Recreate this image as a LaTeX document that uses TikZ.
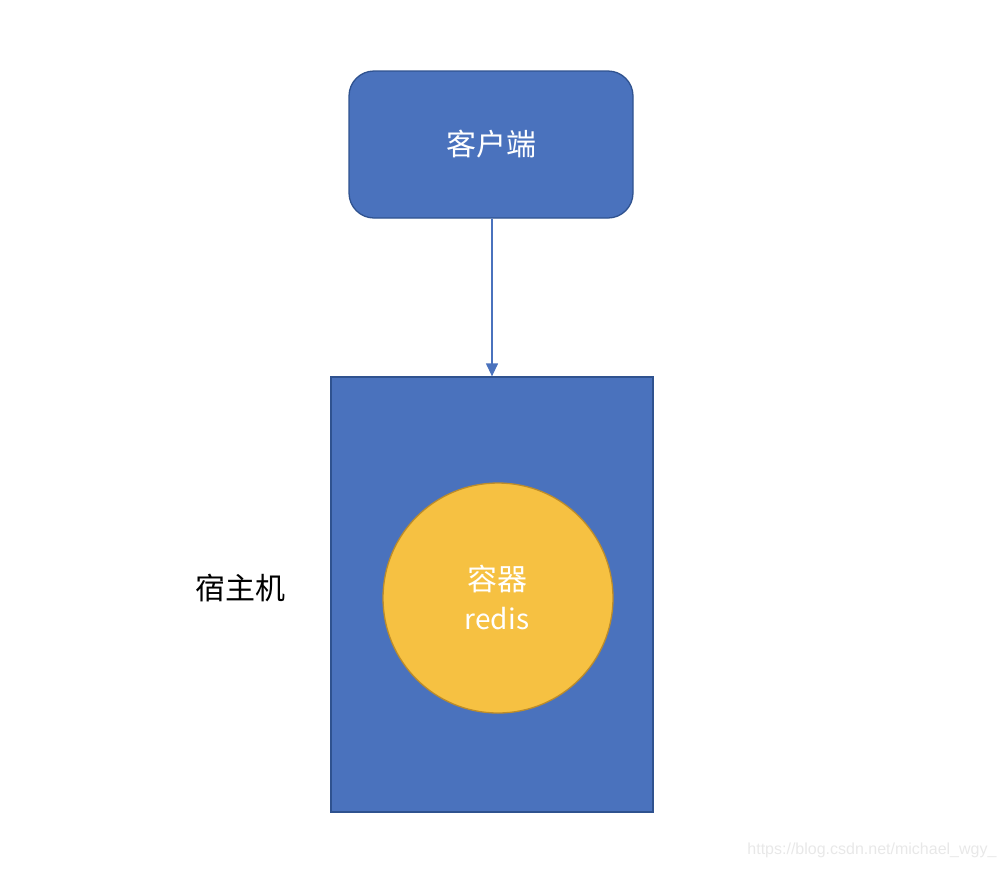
\documentclass[tikz,border=0pt]{standalone}
\usepackage{fontspec}
\setmainfont{Noto Sans CJK SC}
\newfontfamily\wmfont{Liberation Sans}
\usetikzlibrary{arrows.meta}
\definecolor{boxblue}{HTML}{4A72BD}
\definecolor{boxedge}{HTML}{2F528F}
\definecolor{circfill}{HTML}{F6C142}
\definecolor{circedge}{HTML}{BC8C2A}
\definecolor{wmgray}{HTML}{E8E8E8}
\tikzset{
  bluebox/.style={draw=boxedge, fill=boxblue, line width=1.3pt, inner sep=0pt},
  whitetext/.style={text=white, font=\fontsize{30}{36}\selectfont},
  arrowline/.style={draw=boxblue, line width=1.3pt, -{Triangle[length=13pt,width=12pt]}}
}
\begin{document}
\begin{tikzpicture}[x=1pt,y=-1pt]
\useasboundingbox (0,0) rectangle (1008,868);
\node[bluebox, rounded corners=25pt, minimum width=284pt, minimum height=147pt] (client) at (491,144.5) {};
\node[whitetext] (clientlbl) at (491,144.5) {客户端};
\node[bluebox, minimum width=322pt, minimum height=435pt] (host) at (492,594.5) {};
\node[circle, draw=circedge, fill=circfill, line width=1.3pt, minimum size=230pt, inner sep=0pt] (cont) at (498,598) {};
\node[text=white, align=center, font=\fontsize{30}{39}\selectfont] (contlbl) at (497,597) {容器\\\fontsize{28}{39}\selectfont redis};
\node[font=\fontsize{30}{36}\selectfont] (hostlbl) at (240,588) {宿主机};
\draw[arrowline] (client.south -| 492,0) -- (host.north -| 492,0);
\node[text=wmgray, font=\wmfont\fontsize{16}{20}\selectfont, anchor=east] (wm) at (1000,850) {https://blog.csdn.net/michael\_wgy\_};
\end{tikzpicture}
\end{document}
